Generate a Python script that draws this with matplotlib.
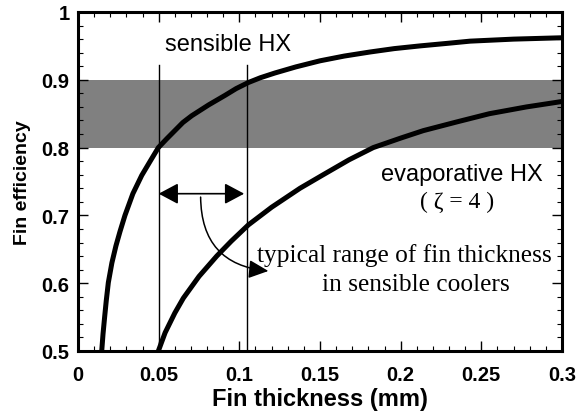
import matplotlib
matplotlib.use('Agg')
import matplotlib.pyplot as plt
from matplotlib.ticker import MultipleLocator, FormatStrFormatter

# values
sensible_t = [0.0147, 0.0155, 0.0165, 0.0175, 0.0188, 0.0210, 0.0235, 0.0260,
              0.0291, 0.0340, 0.0395, 0.0450, 0.0498, 0.0550, 0.0600, 0.0650,
              0.0705, 0.0810, 0.0911, 0.0980, 0.1056, 0.1130, 0.1220, 0.1350,
              0.1500, 0.1650, 0.1810, 0.1960, 0.2120, 0.2300, 0.2430, 0.2700,
              0.3000]
sensible_eff = [0.500, 0.525, 0.550, 0.574, 0.601, 0.630, 0.655, 0.676,
                0.700, 0.732, 0.759, 0.781, 0.800, 0.813, 0.825, 0.837,
                0.847, 0.863, 0.877, 0.887, 0.896, 0.903, 0.910, 0.919,
                0.928, 0.935, 0.941, 0.946, 0.950, 0.954, 0.957, 0.960,
                0.962]

evap_t = [0.0498, 0.0540, 0.0600, 0.0653, 0.0750, 0.0860, 0.0950, 0.1056,
          0.1200, 0.1376, 0.1520, 0.1680, 0.1830, 0.2000, 0.2140, 0.2350,
          0.2550, 0.2780, 0.3000]
evap_eff = [0.500, 0.527, 0.556, 0.578, 0.610, 0.640, 0.662, 0.686,
            0.712, 0.740, 0.760, 0.782, 0.800, 0.814, 0.825, 0.838,
            0.850, 0.860, 0.868]

band = (0.8, 0.9)              # shaded efficiency range
range_t = (0.05, 0.105)        # typical fin thickness range
range_top = 0.922

sans = 'Liberation Sans'
serif = 'Liberation Serif'

fig = plt.figure(figsize=(5.77, 4.14), dpi=100)
ax = fig.add_axes([0.1352, 0.1498, 0.8388, 0.8188])

ax.axhspan(band[0], band[1], color='#808080', lw=0, zorder=0)

for t in range_t:
    ax.plot([t, t], [0.5, range_top], color='black', lw=1.0, zorder=2)

ax.plot(sensible_t, sensible_eff, color='black', lw=3.6, solid_capstyle='butt',
        solid_joinstyle='round', zorder=3)
ax.plot(evap_t, evap_eff, color='black', lw=3.6, solid_capstyle='butt',
        solid_joinstyle='round', zorder=3)

# double arrow between the two vertical lines
ax.annotate('', xy=(range_t[0], 0.732), xytext=(range_t[1] - 0.002, 0.732),
            arrowprops=dict(arrowstyle='<|-|>,head_length=0.6,head_width=0.32',
                            mutation_scale=20, color='black', lw=1.2,
                            shrinkA=0, shrinkB=0), zorder=4)

# curved pointer to the explanation text
ax.annotate('', xy=(0.118, 0.618), xytext=(0.076, 0.727),
            arrowprops=dict(arrowstyle='-|>,head_length=0.6,head_width=0.28',
                            mutation_scale=20, color='black', lw=1.1,
                            shrinkA=0, shrinkB=0,
                            connectionstyle='arc3,rad=0.45'), zorder=4)

ax.text(0.054, 0.953, 'sensible HX', family=sans, fontsize=17,
        ha='left', va='center')
ax.text(0.288, 0.761, 'evaporative HX', family=sans, fontsize=17,
        ha='right', va='center')
ax.text(0.235, 0.720, '( ζ = 4 )', family=serif, fontsize=17,
        ha='center', va='center')
ax.text(0.2024, 0.643, 'typical range of fin thickness', family=serif,
        fontsize=18.3, ha='center', va='center')
ax.text(0.2096, 0.599, 'in sensible coolers', family=serif,
        fontsize=18.3, ha='center', va='center')

ax.set_xlim(0, 0.3)
ax.set_ylim(0.5, 1.0)
ax.xaxis.set_major_locator(MultipleLocator(0.05))
ax.xaxis.set_minor_locator(MultipleLocator(0.01))
ax.yaxis.set_major_locator(MultipleLocator(0.1))
ax.yaxis.set_minor_locator(MultipleLocator(0.02))
ax.xaxis.set_major_formatter(FormatStrFormatter('%g'))
ax.yaxis.set_major_formatter(FormatStrFormatter('%g'))

ax.tick_params(which='both', direction='in', top=True, right=True,
               color='black')
ax.tick_params(which='major', length=7, width=1.0, pad=6)
ax.tick_params(axis='x', which='major', pad=10)
ax.tick_params(which='minor', length=3.5, width=0.8)
for lab in ax.get_xticklabels() + ax.get_yticklabels():
    lab.set_family(sans)
    lab.set_fontweight('bold')
    lab.set_fontsize(14.5)

for sp in ax.spines.values():
    sp.set_linewidth(2.2)

ax.set_xlabel('Fin thickness (mm)', family=sans, fontweight='bold',
              fontsize=17, labelpad=2)
ax.set_ylabel('Fin efficiency', family=sans, fontweight='bold',
              fontsize=14, labelpad=8)

fig.savefig('out.png', dpi=100)
